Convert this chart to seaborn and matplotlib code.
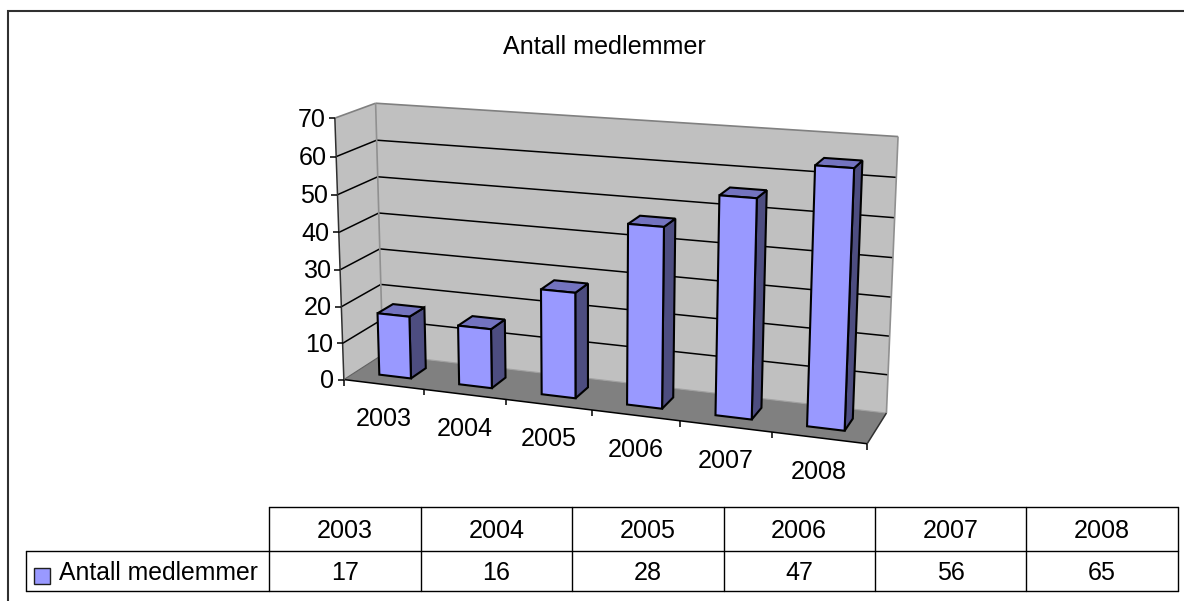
import numpy as np
import pandas as pd
import matplotlib

matplotlib.use("Agg")
import matplotlib.pyplot as plt
import seaborn as sns
from matplotlib.patches import Polygon, Rectangle
from matplotlib.transforms import Transform

years = ["2003", "2004", "2005", "2006", "2007", "2008"]
medlemmer = [17, 16, 28, 47, 56, 65]
y_ticks = [0, 10, 20, 30, 40, 50, 60, 70]
title = "Antall medlemmer"

W, H = 1184, 601

# pixel positions measured on the chart box: (category edge, value, depth) -> (x, y)
calib = [
    (0, 0, 0, 346, 378), (1, 0, 0, 423.3, 390), (2, 0, 0, 506, 399.3),
    (3, 0, 0, 591.7, 410), (4, 0, 0, 680.7, 421.7), (5, 0, 0, 772.7, 431.7),
    (6, 0, 0, 866.7, 444), (0, 70, 0, 333.3, 118.3), (0, 30, 0, 339.7, 270),
    (0, 0, 1, 380, 356), (6, 0, 1, 886.7, 412.7), (0, 70, 1, 376.7, 103.3),
    (6, 70, 1, 898.3, 136.7), (0, 20, 1, 382.7, 283.3), (6, 30, 1, 890.7, 296.7),
]


def fit_projection(pts):
    a, b = [], []
    for u, v, d, x, y in pts:
        a.append([u, v, d, 1, 0, 0, 0, 0, -x * u, -x * v, -x * d])
        b.append(x)
        a.append([0, 0, 0, 0, u, v, d, 1, -y * u, -y * v, -y * d])
        b.append(y)
    p = np.linalg.lstsq(np.array(a, float), np.array(b, float), rcond=None)[0]
    return np.append(p, 1.0).reshape(3, 4)


P = fit_projection(calib)


def project(u, v, d):
    q = P @ np.array([u, v, d, 1.0])
    return q[0] / q[2], q[1] / q[2]


class BoxFace(Transform):
    # puts seaborn's (category, value) bars on a plane of constant depth
    input_dims = 2
    output_dims = 2
    is_separable = False

    def __init__(self, plane):
        super().__init__()
        self.plane = plane

    def transform_non_affine(self, values):
        values = np.asarray(values, float)
        return np.array([project(x + 0.5, y, self.plane) for x, y in values])


sns.set_style("white")
plt.rcParams["font.family"] = ["Liberation Sans", "DejaVu Sans"]
FS = 18.1
INK = "#000000"
EDGE = 1.5

fig = plt.figure(figsize=(W / 100, H / 100), dpi=100)
ax = fig.add_axes([0, 0, 1, 1])

df = pd.DataFrame({"year": years, "medlemmer": medlemmer})
bar_width = 0.4
sns.barplot(
    data=df,
    x="year",
    y="medlemmer",
    color="#9999FF",
    saturation=1,
    width=bar_width,
    edgecolor=INK,
    linewidth=EDGE,
    ax=ax,
)
ax.set_xlim(0, W)
ax.set_ylim(H, 0)
ax.axis("off")

d0, d1 = 0.3, 0.7
front = BoxFace(d0)
for patch in ax.patches:
    patch.set_transform(front + ax.transData)
    patch.set_zorder(4)


def face(corners, color, z, edge="none", lw=0):
    ax.add_patch(
        Polygon([project(*c) for c in corners], closed=True, facecolor=color,
                edgecolor=edge, linewidth=lw, zorder=z)
    )


def line(a, b, color=INK, lw=1.0, z=2, off=(0, 0), off2=(0, 0)):
    pa, pb = project(*a), project(*b)
    ax.plot([pa[0] + off[0], pb[0] + off2[0]], [pa[1] + off[1], pb[1] + off2[1]],
            color=color, lw=lw, zorder=z, solid_capstyle="butt")


top_v = y_ticks[-1]
n = len(years)
face([(0, 0, 1), (n, 0, 1), (n, top_v, 1), (0, top_v, 1)], "#C0C0C0", 1)
face([(0, 0, 0), (0, 0, 1), (0, top_v, 1), (0, top_v, 0)], "#C0C0C0", 1)
face([(0, 0, 0), (n, 0, 0), (n, 0, 1), (0, 0, 1)], "#808080", 1)

for v in y_ticks[1:-1]:
    line((0, v, 0), (0, v, 1), lw=1.1)
    line((0, v, 1), (n, v, 1), lw=1.1)
# wall outlines are grey, the axis lines in front are dark
line((0, top_v, 0), (0, top_v, 1), color="#808080", lw=1.2)
line((0, top_v, 1), (n, top_v, 1), color="#808080", lw=1.2)
line((n, top_v, 1), (n, 0, 1), color="#909090", lw=1.2)
line((0, top_v, 1), (0, 0, 1), color="#909090", lw=1.2)
line((0, 0, 1), (n, 0, 1), color="#A0A0A0", lw=0.8)
line((0, 0, 0), (0, top_v, 0), color="#303030", lw=1.1, z=3)
line((0, 0, 0), (n, 0, 0), color=INK, lw=1.1, z=3)
line((n, 0, 0), (n, 0, 1), color="#303030", lw=1.1, z=3)
line((0, 0, 0), (0, 0, 1), color="#606060", lw=0.8, z=3)

# y ticks and labels
for v in y_ticks:
    line((0, v, 0), (0, v, 0), lw=1.1, z=3, off=(-6, 0))
    x, y = project(0, v, 0)
    ax.text(x - 9.5, y + 1.5, str(v), ha="right", va="center", fontsize=FS, color=INK)

# x ticks and labels
for i in range(n + 1):
    line((i, 0, 0), (i, 0, 0), lw=1.1, z=3, off2=(0, 6))
for i, year in enumerate(years):
    x, y = project(i + 0.5, 0, 0)
    ax.text(x, y + 34.5, year, ha="center", va="center", fontsize=FS, color=INK)

# sides and tops of the bars
half = bar_width / 2
for i, val in enumerate(medlemmer):
    l, r = i + 0.5 - half, i + 0.5 + half
    face([(r, 0, d0), (r, 0, d1), (r, val, d1), (r, val, d0)], "#4D4D80", 3, INK, EDGE)
    face([(l, val, d0), (r, val, d0), (r, val, d1), (l, val, d1)], "#7373BF", 3, INK, EDGE)

# outer chart frame, only top and left edges fall inside the picture
ax.plot([8, 8, W], [H, 11, 11], color="#303030", lw=1.5, zorder=2, solid_joinstyle="miter")

ax.text(604, 47, title, ha="center", va="center", fontsize=FS, color=INK)

# data table under the chart
col_left, col_right = 269.3, 1177.7
row_top, row_mid, row_bot = 506.7, 551, 590.7
key_left = 26.3
col_w = (col_right - col_left) / n
ax.plot([col_left, col_right], [row_top, row_top], color=INK, lw=1, zorder=2)
ax.plot([key_left, col_right], [row_mid, row_mid], color=INK, lw=1, zorder=2)
ax.plot([key_left, col_right], [row_bot, row_bot], color=INK, lw=1, zorder=2)
ax.plot([key_left, key_left], [row_mid, row_bot], color=INK, lw=1, zorder=2)
for i in range(n + 1):
    x = col_left + i * col_w
    ax.plot([x, x], [row_top, row_bot], color=INK, lw=1, zorder=2)
for i, (year, val) in enumerate(zip(years, medlemmer)):
    x = col_left + (i + 0.5) * col_w
    ax.text(x, (row_top + row_mid) / 2 + 2.5, year, ha="center", va="center", fontsize=FS, color=INK)
    ax.text(x, (row_mid + row_bot) / 2 + 2.5, str(val), ha="center", va="center", fontsize=FS, color=INK)

ax.add_patch(Rectangle((34, 568), 16, 16, facecolor="#9999FF", edgecolor="#202020", linewidth=1, zorder=3))
ax.text(59, (row_mid + row_bot) / 2 + 2.5, title, ha="left", va="center", fontsize=17.8, color=INK)

fig.savefig("out.png", dpi=100)
plt.close(fig)
